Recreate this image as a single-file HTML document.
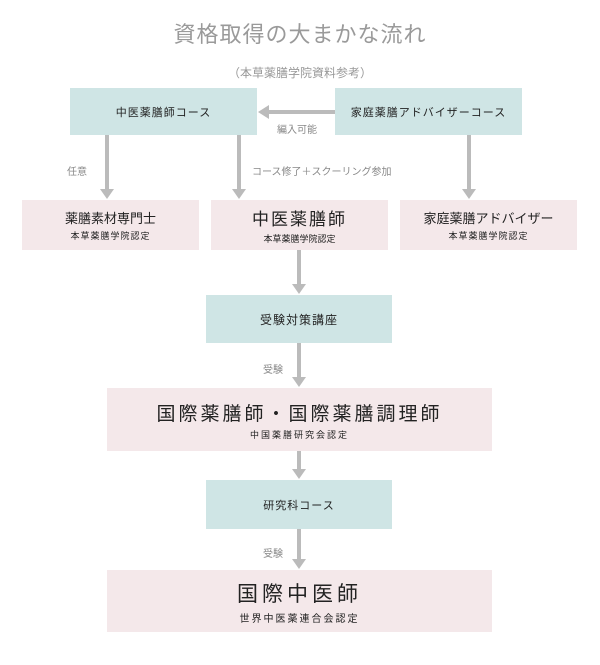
<!DOCTYPE html>
<html><head><meta charset="utf-8"><style>
body{margin:0;width:600px;height:665px;background:#fff;font-family:"Liberation Sans","Noto Sans CJK JP",sans-serif;position:relative;overflow:hidden}
.b{position:absolute;display:flex;flex-direction:column;align-items:center;justify-content:center;color:#222;text-align:center}
.t{background:#cfe5e5}.p{background:#f4e8ea}
.s{font-size:9px;letter-spacing:1px;margin-top:2px}
.l{position:absolute;font-size:10px;color:#888;white-space:nowrap}
svg{position:absolute;left:0;top:0}
</style></head><body>
<div class="l" style="left:0;width:600px;text-align:center;top:17px;font-size:22px;color:#9a9a9a;letter-spacing:1px">資格取得の大まかな流れ</div>
<div class="l" style="left:0;width:600px;text-align:center;top:64px;font-size:12px;color:#999">（本草薬膳学院資料参考）</div>
<div class="b t" style="left:70px;top:88px;width:187px;height:47px;font-size:11px;letter-spacing:1px">中医薬膳師コース</div>
<div class="b t" style="left:335px;top:88px;width:187px;height:47px;font-size:11px;letter-spacing:1px">家庭薬膳アドバイザーコース</div>
<div class="b p" style="left:22px;top:200px;width:177px;height:50px;font-size:13px">薬膳素材専門士<div class="s">本草薬膳学院認定</div></div>
<div class="b p" style="left:211px;top:200px;width:177px;height:50px;font-size:17px;letter-spacing:2px">中医薬膳師<div class="s" style="letter-spacing:0">本草薬膳学院認定</div></div>
<div class="b p" style="left:400px;top:200px;width:177px;height:50px;font-size:13px">家庭薬膳アドバイザー<div class="s">本草薬膳学院認定</div></div>
<div class="b t" style="left:206px;top:295px;width:186px;height:48px;font-size:12px;letter-spacing:1px">受験対策講座</div>
<div class="b p" style="left:107px;top:388px;width:385px;height:63px;font-size:19px;letter-spacing:3px">国際薬膳師・国際薬膳調理師<div class="s" style="letter-spacing:2px">中国薬膳研究会認定</div></div>
<div class="b t" style="left:206px;top:480px;width:186px;height:49px;font-size:11px;letter-spacing:1px">研究科コース</div>
<div class="b p" style="left:107px;top:570px;width:385px;height:62px;font-size:21px;letter-spacing:4px">国際中医師<div class="s" style="letter-spacing:2px;font-size:10px">世界中医薬連合会認定</div></div>
<div class="l" style="left:277px;top:121px">編入可能</div>
<div class="l" style="left:67px;top:163px">任意</div>
<div class="l" style="left:252px;top:163px">コース修了＋スクーリング参加</div>
<div class="l" style="left:263px;top:361px">受験</div>
<div class="l" style="left:263px;top:545px">受験</div>
<svg width="600" height="665" fill="#bbb" stroke="#bbb">
<g stroke-width="4">
<line x1="335" y1="112" x2="268" y2="112"/>
<line x1="107" y1="135" x2="107" y2="190"/>
<line x1="239" y1="135" x2="239" y2="190"/>
<line x1="469" y1="135" x2="469" y2="190"/>
<line x1="299" y1="250" x2="299" y2="285"/>
<line x1="299" y1="343" x2="299" y2="378"/>
<line x1="299" y1="451" x2="299" y2="470"/>
<line x1="299" y1="529" x2="299" y2="560"/>
</g>
<g stroke="none">
<polygon points="258,112 269,105 269,119"/>
<polygon points="100,189 114,189 107,199"/>
<polygon points="232,189 246,189 239,199"/>
<polygon points="462,189 476,189 469,199"/>
<polygon points="292,284 306,284 299,294"/>
<polygon points="292,377 306,377 299,387"/>
<polygon points="292,469 306,469 299,479"/>
<polygon points="292,559 306,559 299,569"/>
</g>
</svg>
</body></html>
